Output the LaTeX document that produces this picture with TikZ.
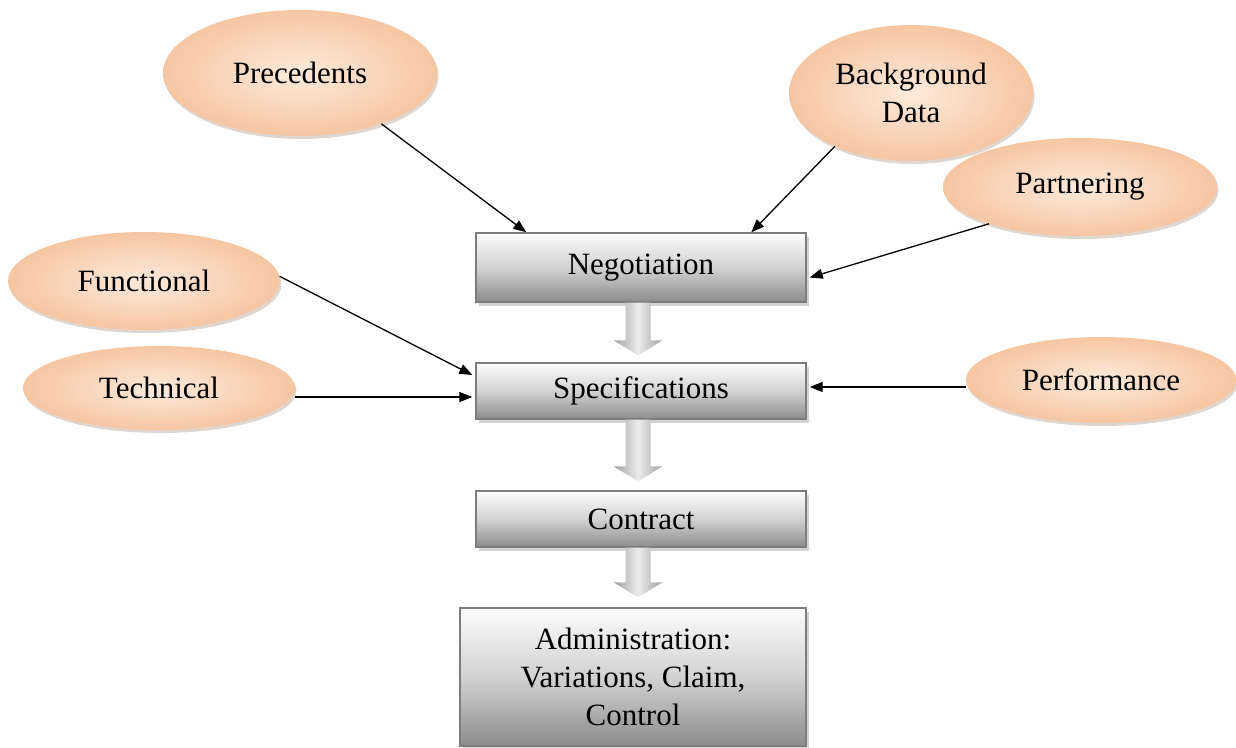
\documentclass[tikz,border=0pt]{standalone}
\usepackage{fontspec}
\setmainfont{Liberation Serif}
\usetikzlibrary{shapes.geometric,arrows.meta,shadows,calc}
\definecolor{peachin}{RGB}{253,234,220}
\definecolor{peachout}{RGB}{246,198,162}
\definecolor{boxedge}{RGB}{125,125,125}
\definecolor{boxtop}{RGB}{252,252,252}
\definecolor{boxmid}{RGB}{210,210,210}
\definecolor{boxbot}{RGB}{140,140,140}
\tikzset{
  inputell/.style={ellipse, inner sep=0pt, shading=radial, inner color=peachin, outer color=peachout,
    drop shadow={shadow xshift=1.5pt, shadow yshift=-3pt, fill=peachout!60!black, opacity=0.3},
    font=\fontsize{31}{38}\selectfont, align=center},
  stagebox/.style={rectangle, draw=boxedge, line width=1.4pt, top color=boxtop, bottom color=boxbot, middle color=boxmid,
    drop shadow={shadow xshift=3pt, shadow yshift=-4pt, fill=gray, opacity=0.35},
    font=\fontsize{31}{38}\selectfont, align=center, inner sep=0pt},
  feed/.style={line width=1.3pt, -{Triangle[length=13pt,width=10pt]}},
  blockarr/.style={left color=gray!75, right color=gray!75, middle color=gray!15}
}
\newcommand{\blockdown}[2]{%
  \path[blockarr] ($(#1)+(-12.5,0)$) -- ($(#1)+(12.5,0)$) -- ($(#2)+(12.5,-15)$) -- ($(#2)+(24.5,-15)$)
    -- (#2) -- ($(#2)+(-24.5,-15)$) -- ($(#2)+(-12.5,-15)$) -- cycle;}
\begin{document}
\begin{tikzpicture}[x=1pt,y=-1pt]
\useasboundingbox (0,0) rectangle (1236,747);

% input ellipses
\node[inputell, minimum width=274pt, minimum height=126pt] (prec) at (300,73) {Precedents};
\node[inputell, minimum width=244pt, minimum height=136pt] (bg) at (911,93) {Background\\Data};
\node[inputell, minimum width=274pt, minimum height=98pt] (part) at (1080,187) {Partnering};
\node[inputell, minimum width=272pt, minimum height=98pt] (func) at (144,281) {Functional};
\node[inputell, minimum width=272pt, minimum height=84pt] (tech) at (159,388) {Technical};
\node[inputell, minimum width=270pt, minimum height=86pt] (perf) at (1101,380) {Performance};

% stage boxes
\node[stagebox, minimum width=330pt, minimum height=69pt] (neg) at (641,267.5) {Negotiation};
\node[stagebox, minimum width=330pt, minimum height=56pt] (spec) at (641,391) {Specifications};
\node[stagebox, minimum width=330pt, minimum height=56pt] (contract) at (641,519) {Contract};
\node[stagebox, minimum width=346pt, minimum height=138pt] (admin) at (633,677) {Administration:\\Variations, Claim,\\Control};

% block arrows between stages
\coordinate (b1s) at ($(neg.south)+(-3,0)$);
\coordinate (b1t) at ($(b1s |- spec.north)+(0,-7)$);
\coordinate (b2s) at ($(spec.south)+(-3,0)$);
\coordinate (b2t) at ($(b2s |- contract.north)+(0,-9)$);
\coordinate (b3s) at ($(contract.south)+(-3,0)$);
\coordinate (b3t) at ($(b3s |- admin.north)+(0,-10)$);
\blockdown{b1s}{b1t}
\blockdown{b2s}{b2t}
\blockdown{b3s}{b3t}

% feeding connectors
\draw[feed] (prec.-32) -- ([xshift=51pt]neg.north west);
\draw[feed] (bg.-145) -- ([xshift=276pt]neg.north west);
\draw[feed] (part.-158) -- ([xshift=3pt,yshift=-10pt]neg.east);
\draw[feed] (func.2) -- ([xshift=-3pt,yshift=16pt]spec.west);
\coordinate (techin) at ([xshift=-3pt,yshift=-6pt]spec.west);
\draw[feed] (techin -| tech.east) -- (techin);
\coordinate (perfin) at ([xshift=3pt,yshift=4pt]spec.east);
\draw[feed] (perfin -| perf.west) -- (perfin);
\end{tikzpicture}
\end{document}
